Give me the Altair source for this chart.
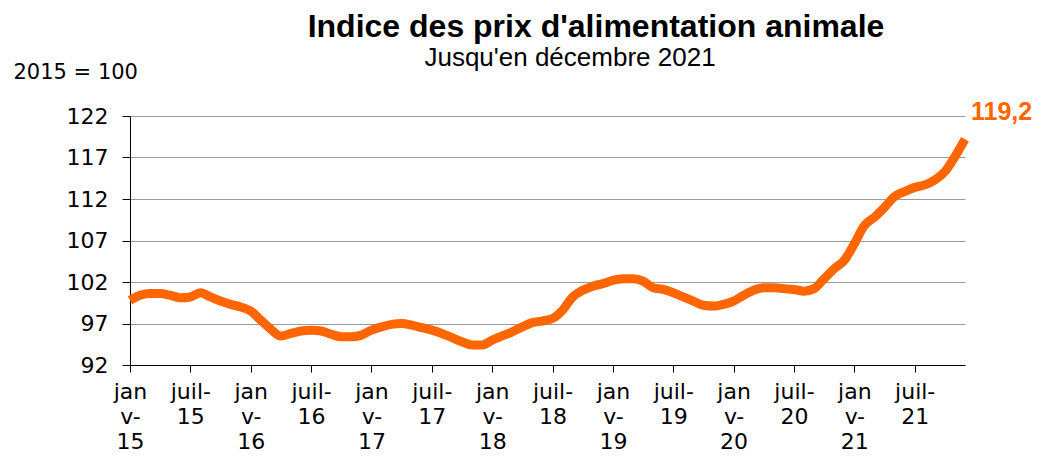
import altair as alt
import pandas as pd

title_text = "Indice des prix d'alimentation animale"
subtitle_text = "Jusqu'en décembre 2021"
unit_text = "2015 = 100"

# monthly index, janv-15 .. déc-21
values = [
    99.8, 100.4, 100.6, 100.6, 100.4, 100.1, 100.2, 100.7, 100.2, 99.7, 99.3, 99.0,
    98.5, 97.4, 96.3, 95.5, 95.8, 96.1, 96.2, 96.1, 95.7, 95.4, 95.4, 95.6,
    96.2, 96.6, 96.9, 97.0, 96.8, 96.5, 96.2, 95.8, 95.3, 94.8, 94.4, 94.4,
    95.0, 95.5, 96.0, 96.6, 97.1, 97.3, 97.6, 98.6, 100.2, 101.0, 101.5, 101.8,
    102.2, 102.4, 102.4, 102.1, 101.3, 101.1, 100.7, 100.2, 99.7, 99.2, 99.1, 99.3,
    99.7, 100.4, 101.0, 101.3, 101.3, 101.2, 101.1, 100.9, 101.2, 102.4, 103.6, 104.6,
    106.6, 108.8, 109.8, 111.0, 112.3, 112.9, 113.4, 113.7, 114.3, 115.3, 117.1, 119.2,
]
month_index = list(range(len(values)))

tick_values = list(range(0, 84, 3))
label_positions = [0, 6, 12, 18, 24, 30, 36, 42, 48, 54, 60, 66, 72, 78]
label_lines = [
    ["jan", "v-", "15"], ["juil-", "15"],
    ["jan", "v-", "16"], ["juil-", "16"],
    ["jan", "v-", "17"], ["juil-", "17"],
    ["jan", "v-", "18"], ["juil-", "18"],
    ["jan", "v-", "19"], ["juil-", "19"],
    ["jan", "v-", "20"], ["juil-", "20"],
    ["jan", "v-", "21"], ["juil-", "21"],
]
y_ticks = [92, 97, 102, 107, 112, 117, 122]

expr = "''"
for pos, lines in reversed(list(zip(label_positions, label_lines))):
    arr = "[" + ",".join("'" + s + "'" for s in lines) + "]"
    expr = f"datum.value == {pos} ? {arr} : ({expr})"

df = pd.DataFrame({"m": month_index, "v": values})
last = df.tail(1).assign(lbl=lambda d: d["v"].map(lambda x: f"{x:.1f}".replace(".", ",")))

ORANGE = "#ff6600"
FONT = "DejaVu Sans"

x_enc = alt.X("m:Q", scale=alt.Scale(domain=[0, 83], nice=False, zero=False),
              axis=alt.Axis(values=tick_values, labelExpr=expr, title=None, grid=False,
                            domainColor="black", tickColor="black", tickSize=7,
                            labelFont=FONT, labelFontSize=22, labelColor="black",
                            labelLineHeight=25, labelPadding=9, labelOverlap=False,
                            labelFlush=False))
y_enc = alt.Y("v:Q", scale=alt.Scale(domain=[92, 122], nice=False, zero=False),
              axis=alt.Axis(values=y_ticks, title=unit_text, titleAngle=0,
                            titleX=-117, titleY=-44, titleAlign="left",
                            titleBaseline="middle", titleFont=FONT,
                            titleFontWeight="normal", titleFontSize=21, titleColor="black",
                            grid=True, gridColor="#999999", gridWidth=1,
                            domainColor="black", tickColor="black", tickSize=8,
                            labelFont=FONT, labelFontSize=22, labelColor="black",
                            labelPadding=14))

line = alt.Chart(df).mark_line(color=ORANGE, strokeWidth=9, interpolate="monotone").encode(
    x=x_enc, y=y_enc)

label = alt.Chart(last).mark_text(color=ORANGE, font="Liberation Sans", fontWeight="bold",
                                  fontSize=25, align="left", baseline="alphabetic",
                                  dx=6, dy=-19).encode(x="m:Q", y="v:Q", text="lbl:N")

ttl = alt.Chart(pd.DataFrame({"t": [title_text]})).mark_text(
    font="Liberation Sans", fontSize=32, fontWeight="bold", color="black", align="center",
    baseline="alphabetic").encode(text="t:N", x=alt.value(466), y=alt.value(-79))

sub = alt.Chart(pd.DataFrame({"t": [subtitle_text]})).mark_text(
    font="Liberation Sans", fontSize=26, color="black", align="center",
    baseline="alphabetic").encode(text="t:N", x=alt.value(440), y=alt.value(-50))

chart = alt.layer(line, label, ttl, sub).properties(
    width=835, height=249,
    autosize=alt.AutoSizeParams(type="none"),
    padding={"left": 122, "top": 108, "right": 70, "bottom": 87},
).configure_view(stroke=None)

chart.save("out.html", embed_options={"renderer": "svg", "actions": False})
